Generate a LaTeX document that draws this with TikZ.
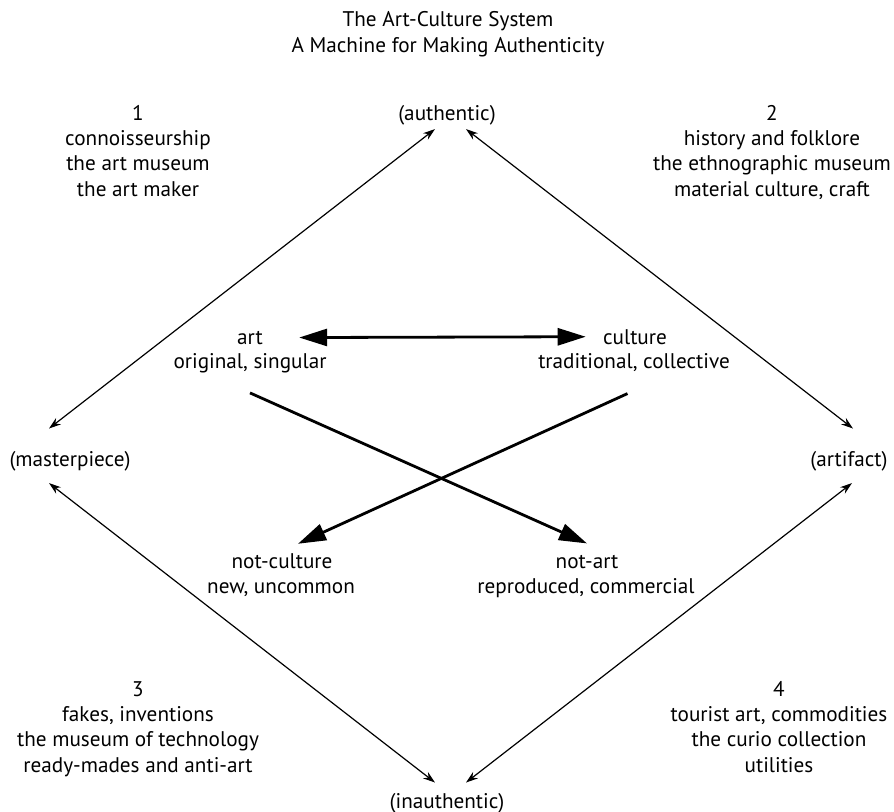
\documentclass[tikz,border=0pt]{standalone}
\usepackage{fontspec}
\setmainfont{PT Sans}
\usetikzlibrary{arrows.meta}

\begin{document}
\begin{tikzpicture}[x=0.5pt,y=-0.5pt,
    lbl/.style={inner sep=0pt, anchor=base, align=center,
        font=\fontsize{10.6}{12.65}\selectfont},
    thin arrow/.style={line width=0.6pt,
        {Stealth[length=6pt,width=4pt]}-{Stealth[length=6pt,width=4pt]}},
    thick arrow/.style={line width=1.4pt, -{Triangle[length=14pt,width=8.5pt]}},
    thick both/.style={line width=1.4pt,
        {Triangle[length=14pt,width=8.5pt]}-{Triangle[length=14pt,width=8.5pt]}}]

\useasboundingbox (0,0) rectangle (894,811);

% title (base = last line)
\node[lbl] (title) at (448,52) {The Art-Culture System\\A Machine for Making Authenticity};

% corners of the diamond
\node[lbl] (authentic) at (447,120) {(authentic)};
\node[lbl] (masterpiece) at (70,466) {(masterpiece)};
\node[lbl] (artifact) at (849,466) {(artifact)};
\node[lbl] (inauthentic) at (447,808) {(inauthentic)};

% the four zones
\node[lbl] (zone1) at (138,196) {1\\connoisseurship\\the art museum\\the art maker};
\node[lbl] (zone2) at (772,196) {2\\history and folklore\\the ethnographic museum\\material culture, craft};
\node[lbl] (zone3) at (138,772) {3\\fakes, inventions\\the museum of technology\\ready-mades and anti-art};
\node[lbl] (zone4) at (779,772) {4\\tourist art, commodities\\the curio collection\\utilities};

% the square in the middle
\node[lbl] (art) at (250,344) {art};
\node[lbl] (artsub) at (250,368) {original, singular};
\node[lbl] (culture) at (635,344) {culture};
\node[lbl] (culturesub) at (634,368) {traditional, collective};
\node[lbl] (notculture) at (282,568) {not-culture};
\node[lbl] (notculturesub) at (281,593) {new, uncommon};
\node[lbl] (notart) at (587,568) {not-art};
\node[lbl] (notartsub) at (586,593) {reproduced, commercial};

% diamond edges
\draw[thin arrow] ([xshift=-6pt,yshift=-2pt]authentic.south) -- ([xshift=-10.5pt,yshift=11pt]masterpiece.north);
\draw[thin arrow] ([xshift=9.5pt,yshift=-2pt]authentic.south) -- ([xshift=2pt,yshift=11pt]artifact.north);
\draw[thin arrow] ([xshift=-10.5pt,yshift=-6pt]masterpiece.south) -- ([xshift=-6pt,yshift=5pt]inauthentic.north);
\draw[thin arrow] ([xshift=1.5pt,yshift=-6pt]artifact.south) -- ([xshift=9.5pt,yshift=5pt]inauthentic.north);

% contraries and contradictions
\draw[thick both] ([xshift=18pt]art.east) -- ([xshift=-8.5pt]culture.west);
\draw[thick arrow] ([yshift=-10pt]artsub.south) -- ([yshift=5.5pt]notart.north);
\draw[thick arrow] ([xshift=-3.25pt,yshift=-11pt]culturesub.south) -- ([xshift=8pt,yshift=4.5pt]notculture.north);

\end{tikzpicture}
\end{document}
